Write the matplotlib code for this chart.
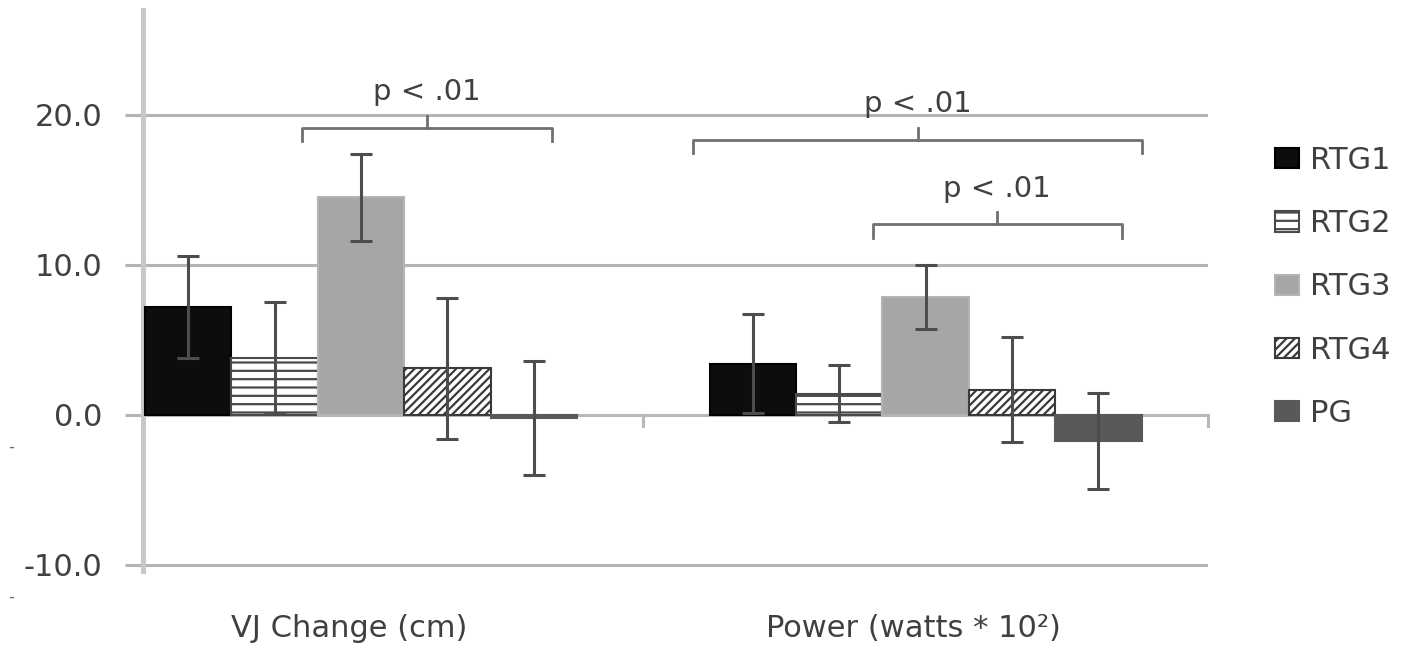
import matplotlib.pyplot as plt
import matplotlib.transforms as mtransforms
import numpy as np

plt.rcParams['font.family'] = ['DejaVu Sans']
plt.rcParams['hatch.linewidth'] = 1.6

# data
categories = ['VJ Change (cm)', 'Power (watts * 10²)']
groups = ['RTG1', 'RTG2', 'RTG3', 'RTG4', 'PG']
rtg1_mean = [7.2, 3.4]
rtg2_mean = [3.8, 1.4]
rtg3_mean = [14.5, 7.85]
rtg4_mean = [3.1, 1.65]
pg_mean = [-0.2, -1.75]
rtg1_err = [3.4, 3.3]
rtg2_err = [3.7, 1.9]
rtg3_err = [2.9, 2.15]
rtg4_err = [4.7, 3.5]
pg_err = [3.8, 3.2]
means = [rtg1_mean, rtg2_mean, rtg3_mean, rtg4_mean, pg_mean]
errs = [rtg1_err, rtg2_err, rtg3_err, rtg4_err, pg_err]

# significance brackets: (x start, x end, height, label)
brackets = [(-0.104, 0.338, 19.13, 'p < .01'),
            (0.588, 1.384, 18.33, 'p < .01'),
            (0.906, 1.347, 12.67, 'p < .01')]

styles = [
    dict(color='#0d0d0d', edgecolor='#000000'),
    dict(color='white', edgecolor='#4a4a4a', hatch='--'),
    dict(color='#a6a6a6', edgecolor='#b4b4b4'),
    dict(color='white', edgecolor='#3a3a3a', hatch='////'),
    dict(color='#595959', edgecolor='#595959'),
]

grid_c = '#b4b4b4'
text_c = '#404040'

fig = plt.figure(figsize=(14.04, 6.48), dpi=100)
ax = fig.add_axes([143 / 1404, 1 - 570.5 / 648, 1065 / 1404, 561 / 648])

x = np.arange(len(categories))
width = 0.153
handles = []
for i, g in enumerate(groups):
    b = ax.bar(x + (i - 2) * width, means[i], width, yerr=errs[i], label=g,
               linewidth=1.5, zorder=3,
               error_kw=dict(ecolor='#4d4d4d', elinewidth=2.2, capsize=8, capthick=2.2, zorder=4),
               **styles[i])
    handles.append(b)

ax.set_xlim(-0.386, 1.5)
ax.set_ylim(-10.4, 27.0)

# gridlines and zero line
for yv in [20, 10, -10]:
    ax.axhline(yv, color=grid_c, lw=2.2, zorder=1)
ax.axhline(0, color='#b8b8b8', lw=2.2, zorder=2)
for xb in [0.5, 1.5]:
    ax.plot([xb, xb], [0, -0.75], color='#b8b8b8', lw=2.2, clip_on=False, zorder=2)

for s in ['top', 'right', 'bottom']:
    ax.spines[s].set_visible(False)
ax.spines['left'].set_color('#c8c8c8')
ax.spines['left'].set_linewidth(3.6)

ax.set_yticks([-10, 0, 10, 20])
ax.set_yticklabels(['-10.0', '0.0', '10.0', '20.0'])
ax.tick_params(axis='y', length=13, width=2.2, color=grid_c, pad=16,
               labelsize=22, labelcolor=text_c)
ax.set_xticks(x)
ax.set_xticklabels(categories)
ax.tick_params(axis='x', length=0, pad=31, labelsize=22, labelcolor=text_c)
shift = mtransforms.ScaledTranslation(-0.12, 0, fig.dpi_scale_trans)
for lbl in ax.get_xticklabels():
    lbl.set_transform(lbl.get_transform() + shift)

for x0, x1, yb, lab in brackets:
    xm = (x0 + x1) / 2
    ax.plot([x0, x0, x1, x1], [yb - 0.9, yb, yb, yb - 0.9], color='#707070', lw=2, zorder=5)
    ax.plot([xm, xm], [yb, yb + 0.8], color='#707070', lw=2, zorder=5)
    ax.text(xm, yb + 2.35, lab, ha='center', va='center', fontsize=21, color=text_c)

ax.legend(handles=handles, labels=groups, loc='upper left',
          bbox_to_anchor=(1275 / 1404, 1 - 146 / 648), bbox_transform=fig.transFigure,
          frameon=False, fontsize=22, handlelength=0.8, handleheight=0.65,
          handletextpad=0.35, labelspacing=1.12, borderpad=0, borderaxespad=0,
          labelcolor=text_c)

# stray marks at the left edge
fig.text(11 / 1404, 1 - 447 / 648, '-', fontsize=12, color='#707070', ha='center', va='center')
fig.text(11 / 1404, 1 - 597 / 648, '-', fontsize=12, color='#707070', ha='center', va='center')

fig.savefig('out.png', dpi=100)
